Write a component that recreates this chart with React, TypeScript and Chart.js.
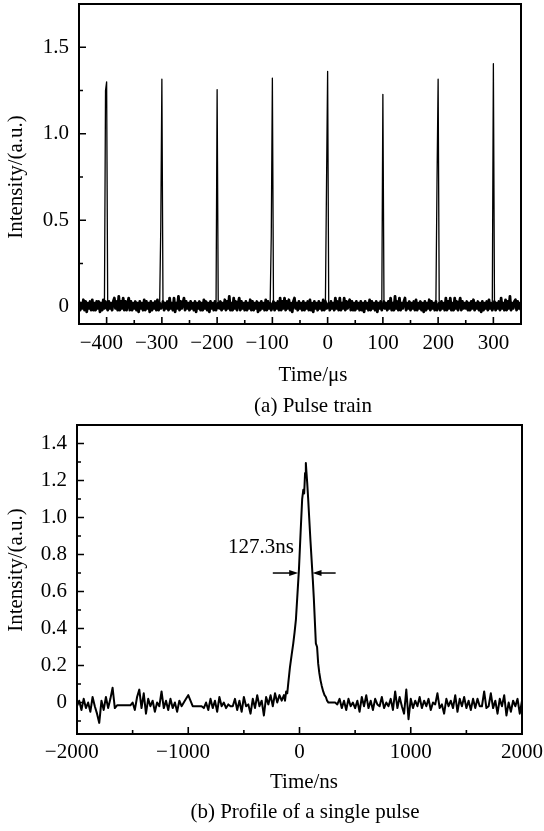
import React, { useEffect, useRef } from "react";
import { Chart, registerables } from "chart.js";

Chart.register(...registerables);

const SERIF = '"Liberation Serif", "Times New Roman", Times, serif';
const FONT_SIZE = 21;

// ---------------- (a) Pulse train ----------------
// baseline sampled every 2 µs from -450 µs; values in 0.01 a.u.
const TRAIN_T0_US = -450;
const TRAIN_DT_US = 2;
const TRAIN_NOISE = [
  3, -2, 2, -1, 4, -2, 3, -3, 2, -1, 3, -2, 4, -2, 2, -2, 3, -1, 3, -3, 2, -2, 4, -1, 3,
  0, -2, 3, -1, 2, -2, 3, 5, -1, 3, -2, 6, -2, 3, -1, 5, -2, 3, -2, 2, 5, -2, 3, -2, 2,
  -1, 3, -2, 2, -3, 3, -1, 2, -2, 4, -2, 3, -1, 2, -3, 3, -2, 2, -1, 3, -2, 4, -2, 2, -1,
  0, 3, -2, 2, -1, 3, -2, 5, -1, 2, -2, 5, -3, 2, -1, 6, -2, 3, -1, 2, 5, -2, 3, -1, 2,
  -2, 3, -1, 2, -2, 3, -3, 2, -1, 3, -2, 2, -2, 4, -1, 3, -2, 2, -3, 3, -1, 2, -2, 3, -2,
  0, 2, -1, 3, -2, 2, -1, 4, -2, 3, -1, 6, -2, 2, -2, 5, -1, 3, -2, 2, 5, -2, 3, -1, 2,
  -2, 3, -2, 2, -1, 4, -2, 3, -2, 2, -1, 3, -3, 2, -2, 3, -1, 2, -2, 4, -2, 3, -1, 2, -2,
  0, 3, -2, 2, -1, 3, -2, 5, -2, 3, -1, 5, -2, 3, -1, 4, -2, 2, -3, 3, 5, -1, 2, -2, 3,
  -1, 2, -2, 3, -2, 2, -1, 3, -2, 4, -2, 2, -3, 3, -1, 2, -2, 3, -1, 2, -2, 4, -2, 3, -1,
  0, 2, -2, 3, -1, 2, -2, 5, -1, 3, -2, 5, -2, 2, -1, 5, -2, 3, -1, 2, 4, -2, 3, -2, 2,
  -2, 3, -1, 2, -2, 3, -2, 2, -3, 3, -1, 2, -2, 4, -2, 3, -1, 2, -2, 3, -3, 2, -1, 3, -2,
  0, 3, -1, 2, -2, 3, -1, 5, -2, 2, -2, 6, -1, 3, -2, 5, -2, 2, -1, 3, 5, -2, 2, -1, 3,
  -2, 2, -1, 3, -2, 4, -2, 2, -1, 3, -2, 2, -3, 3, -2, 2, -1, 4, -2, 3, -1, 2, -2, 3, -2,
  0, 2, -2, 3, -1, 2, -2, 5, -2, 3, -1, 5, -2, 2, -2, 5, -1, 3, -2, 2, 5, -2, 3, -1, 2,
  -1, 3, -2, 2, -2, 3, -1, 4, -2, 2, -1, 3, -2, 2, -3, 3, -2, 2, -1, 3, -2, 4, -1, 2, -2,
  0, 3, -2, 2, -1, 3, -2, 5, -1, 2, -2, 4, -2, 3, -1, 6, -2, 2, -1, 3, 4, -2, 3, -1, 2,
  -2,
];
const PULSE_TIMES_US = [-400, -300, -200, -100, 0, 100, 200, 300];
const PULSE_PEAKS = [1.3, 1.315, 1.255, 1.322, 1.361, 1.228, 1.315, 1.405];
const PULSE_SHOULDERS: (number | null)[] = [1.25, 0.46, null, 0.41, 0.71, null, 0.73, null];

const TRAIN_X_MIN = -450;
const TRAIN_X_MAX = 350;
const TRAIN_Y_MIN = -0.1;
const TRAIN_Y_MAX = 1.75;
const TRAIN_X_TICKS = [-400, -300, -200, -100, 0, 100, 200, 300];
const TRAIN_X_MINOR = [-350, -250, -150, -50, 50, 150, 250];
const TRAIN_Y_TICKS = [0, 0.5, 1.0, 1.5];
const TRAIN_Y_MINOR = [0.25, 0.75, 1.25];

// ---------------- (b) Profile of a single pulse ----------------
const PROFILE_DT_NS = 20;
const PROFILE_PRE_T0_NS = -2000; // values in 0.01 a.u.
const PROFILE_PRE = [
  -2, 1, -4, 2, -3, 0, -5, 3, -2, -6, -11, 1, -4, 3, -3, 2, 8, -3,
  -1.5, -1.5, -1.5, -1.5, -1.5, -1.5, -1.5,
  0, -4, 3, 7, -3, 5, -6, 2, -2, 1, -5, 0, -2, 6, -3, 1, -4, 2, -3, 0, -5, 1, -2, 0, 2, 4,
  1, -2, -2, -2, -2, -2, -3,
  0, -4, 2, -3, 1, -5, 3, -2, 0, -3, -1, -2, -2, 2, -4, 1, -5, 3, -2, -1,
  -6, 2, -3, 4, -2, 1, -7, 3, -1, 4, -2, 5, 0, 4, 1,
];
const PROFILE_PULSE_T = [
  -140, -130, -120, -110, -100, -86, -70, -56, -44, -32, -20, -5, 10, 24, 34, 42, 50, 57, 62, 69,
  78, 87, 98, 109, 120, 129, 138, 147, 158, 168, 178, 189, 200, 213, 225, 237, 248, 260, 280,
];
const PROFILE_PULSE_V = [
  0.04, 0.01, 0.06, 0.05, 0.11, 0.19, 0.26, 0.32, 0.38, 0.45, 0.57, 0.72, 0.92, 1.1, 1.15, 1.13, 1.24, 1.295, 1.25, 1.19,
  1.1, 1.0, 0.88, 0.77, 0.66, 0.56, 0.44, 0.32, 0.3, 0.21, 0.16, 0.12, 0.09, 0.06, 0.04, 0.03, 0.01, 0.0, 0.0,
];
const PROFILE_POST_T0_NS = 300; // values in 0.01 a.u.
const PROFILE_POST = [
  0, 0, -1, 2, -3, 1, -4, 2, -2, 0,
  -3, 1, -5, 3, -2, 4, -3, 1, -4, 2,
  -1, -2, 3, -3, 0, -2, 2, -4, 6, -3,
  3, -2, -6, 7, -9, 2, -3, 1, -2, 3,
  -3, 1, -2, 2, -4, 0, -1, 5, -3, -1,
  -6, 2, -2, 1, -3, 4, -5, 2, -2, 3,
  -3, 1, -4, 2, -3, 2, -2, -2, 6, -3,
  -2, 5, -3, 1, -6, 2, -2, 4, -7, 0,
  -5, 1, -2, 2, -6, 1,
];
const FWHM_LABEL = "127.3ns";
const FWHM_LEVEL = 0.7;
const FWHM_LEFT_ARROW_NS = [-240, -12];
const FWHM_RIGHT_ARROW_NS = [325, 117];
const FWHM_LABEL_POS = [-347, 0.81];

const PROFILE_X_MIN = -2000;
const PROFILE_X_MAX = 2000;
const PROFILE_Y_MIN = -0.17;
const PROFILE_Y_MAX = 1.5;
const PROFILE_X_TICKS = [-2000, -1000, 0, 1000, 2000];
const PROFILE_X_MINOR = [-1500, -500, 500, 1500];
const PROFILE_Y_TICKS = [0, 0.2, 0.4, 0.6, 0.8, 1.0, 1.2, 1.4];
const PROFILE_Y_MINOR = [-0.1, 0.1, 0.3, 0.5, 0.7, 0.9, 1.1, 1.3];

// ---------------- helpers ----------------
type Pt = { x: number; y: number | null };

const noiseAt = (t: number) => TRAIN_NOISE[Math.round((t - TRAIN_T0_US) / TRAIN_DT_US)] / 100;

function buildTrainBaseline() {
  return TRAIN_NOISE.map((v, i) => ({ x: TRAIN_T0_US + i * TRAIN_DT_US, y: v / 100 }));
}

function buildTrainPulses() {
  const pts: Pt[] = [];
  PULSE_TIMES_US.forEach((t, k) => {
    const sh = PULSE_SHOULDERS[k];
    pts.push({ x: t - 2 * TRAIN_DT_US, y: noiseAt(t - 2 * TRAIN_DT_US) });
    pts.push({ x: t - TRAIN_DT_US, y: sh === null ? noiseAt(t - TRAIN_DT_US) : sh });
    pts.push({ x: t, y: PULSE_PEAKS[k] });
    pts.push({ x: t + TRAIN_DT_US, y: noiseAt(t + TRAIN_DT_US) });
    pts.push({ x: t + TRAIN_DT_US, y: null });
  });
  return pts;
}

function buildProfile() {
  const pts: Pt[] = [];
  PROFILE_PRE.forEach((v, i) => pts.push({ x: PROFILE_PRE_T0_NS + i * PROFILE_DT_NS, y: v / 100 }));
  PROFILE_PULSE_T.forEach((t, i) => pts.push({ x: t, y: PROFILE_PULSE_V[i] }));
  PROFILE_POST.forEach((v, i) => pts.push({ x: PROFILE_POST_T0_NS + i * PROFILE_DT_NS, y: v / 100 }));
  return pts;
}

const fmtX = (v: number) => (v < 0 ? "\u2212" + Math.abs(v) + "\u2002" : String(v));
const fmtY = (v: number) => (v === 0 ? "0" : v.toFixed(1));

function axis(min: number, max: number, ticks: number[], fmt: (v: number) => string, padding: number, size: number, horizontal: boolean) {
  return {
    type: "linear",
    min,
    max,
    grid: { display: false, drawTicks: false },
    border: { display: false },
    ticks: {
      color: "#000",
      font: { family: SERIF, size: FONT_SIZE },
      padding,
      autoSkip: false,
      maxRotation: 0,
      callback: (v: any) => fmt(Number(v)),
    },
    afterBuildTicks: (s: any) => {
      s.ticks = ticks.map((v) => ({ value: v }));
    },
    afterFit: (s: any) => {
      if (horizontal) {
        s.height = size;
        s.paddingLeft = 0;
        s.paddingRight = 0;
      } else {
        s.width = size;
        s.paddingTop = 0;
        s.paddingBottom = 0;
      }
    },
  };
}

type TextItem = { text: string; x: number; y: number; rotate?: boolean };

function decor(opts: {
  xMajor: number[];
  xMinor: number[];
  yMajor: number[];
  yMinor: number[];
  texts: TextItem[];
  annotate?: boolean;
}) {
  return {
    id: "decor",
    afterDatasetsDraw(chart: any) {
      const { ctx, chartArea: a, scales } = chart;
      const xs = scales.x;
      const ys = scales.y;
      ctx.save();
      ctx.strokeStyle = "#000";
      ctx.lineWidth = 2;
      ctx.strokeRect(a.left, a.top, a.right - a.left, a.bottom - a.top);
      ctx.lineWidth = 1.6;
      ctx.beginPath();
      const tx = (v: number, len: number) => {
        const p = xs.getPixelForValue(v);
        ctx.moveTo(p, a.bottom);
        ctx.lineTo(p, a.bottom - len);
      };
      const ty = (v: number, len: number) => {
        const p = ys.getPixelForValue(v);
        ctx.moveTo(a.left, p);
        ctx.lineTo(a.left + len, p);
      };
      opts.xMajor.forEach((v) => tx(v, 7));
      opts.xMinor.forEach((v) => tx(v, 4));
      opts.yMajor.forEach((v) => ty(v, 7));
      opts.yMinor.forEach((v) => ty(v, 4));
      ctx.stroke();

      if (opts.annotate) {
        const yA = ys.getPixelForValue(FWHM_LEVEL);
        const arrow = (fromV: number, toV: number) => {
          const x0 = xs.getPixelForValue(fromV);
          const x1 = xs.getPixelForValue(toV);
          const dir = x1 > x0 ? 1 : -1;
          ctx.lineWidth = 1.5;
          ctx.beginPath();
          ctx.moveTo(x0, yA);
          ctx.lineTo(x1 - dir * 8, yA);
          ctx.stroke();
          ctx.beginPath();
          ctx.moveTo(x1, yA);
          ctx.lineTo(x1 - dir * 9, yA - 3);
          ctx.lineTo(x1 - dir * 9, yA + 3);
          ctx.closePath();
          ctx.fillStyle = "#000";
          ctx.fill();
        };
        arrow(FWHM_LEFT_ARROW_NS[0], FWHM_LEFT_ARROW_NS[1]);
        arrow(FWHM_RIGHT_ARROW_NS[0], FWHM_RIGHT_ARROW_NS[1]);
        ctx.fillStyle = "#000";
        ctx.font = `${FONT_SIZE}px ${SERIF}`;
        ctx.textAlign = "center";
        ctx.textBaseline = "alphabetic";
        ctx.fillText(FWHM_LABEL, xs.getPixelForValue(FWHM_LABEL_POS[0]), ys.getPixelForValue(FWHM_LABEL_POS[1]));
      }
      ctx.restore();
    },
    afterDraw(chart: any) {
      const { ctx } = chart;
      ctx.save();
      ctx.fillStyle = "#000";
      ctx.font = `${FONT_SIZE}px ${SERIF}`;
      ctx.textAlign = "center";
      ctx.textBaseline = "alphabetic";
      opts.texts.forEach((t) => {
        if (t.rotate) {
          ctx.save();
          ctx.translate(t.x, t.y);
          ctx.rotate(-Math.PI / 2);
          ctx.fillText(t.text, 0, 0);
          ctx.restore();
        } else {
          ctx.fillText(t.text, t.x, t.y);
        }
      });
      ctx.restore();
    },
  };
}

const TOP_H = 416;
const BOT_TOP = 416;
const BOT_H = 831 - 416;

export default function App() {
  const topRef = useRef<HTMLCanvasElement | null>(null);
  const botRef = useRef<HTMLCanvasElement | null>(null);

  useEffect(() => {
    const c1 = new Chart(topRef.current as HTMLCanvasElement, {
      type: "line",
      data: {
        datasets: [
          {
            data: buildTrainBaseline(),
            borderColor: "#000",
            borderWidth: 2.8,
            borderJoinStyle: "round",
            pointRadius: 0,
            tension: 0,
            fill: false,
          },
          {
            data: buildTrainPulses(),
            borderColor: "#000",
            borderWidth: 1.3,
            borderJoinStyle: "round",
            pointRadius: 0,
            tension: 0,
            fill: false,
            spanGaps: false,
          },
        ],
      },
      options: {
        animation: false,
        responsive: false,
        events: [],
        layout: { padding: { left: 0, right: 23, top: 4, bottom: 0 } },
        plugins: { legend: { display: false }, tooltip: { enabled: false }, title: { display: false } },
        scales: {
          x: axis(TRAIN_X_MIN, TRAIN_X_MAX, TRAIN_X_TICKS, fmtX, 7, TOP_H - 324, true),
          y: axis(TRAIN_Y_MIN, TRAIN_Y_MAX, TRAIN_Y_TICKS, fmtY, 10, 79, false),
        },
      } as any,
      plugins: [
        decor({
          xMajor: TRAIN_X_TICKS,
          xMinor: TRAIN_X_MINOR,
          yMajor: TRAIN_Y_TICKS,
          yMinor: TRAIN_Y_MINOR,
          texts: [
            { text: "Time/\u03bcs", x: 313, y: 381 },
            { text: "(a) Pulse train", x: 313, y: 412 },
            { text: "Intensity/(a.u.)", x: 21.5, y: 177, rotate: true },
          ],
        }) as any,
      ],
    });

    const c2 = new Chart(botRef.current as HTMLCanvasElement, {
      type: "line",
      data: {
        datasets: [
          {
            data: buildProfile(),
            borderColor: "#000",
            borderWidth: 2,
            borderJoinStyle: "round",
            pointRadius: 0,
            tension: 0,
            fill: false,
          },
        ],
      },
      options: {
        animation: false,
        responsive: false,
        events: [],
        layout: { padding: { left: 0, right: 22, top: 425 - BOT_TOP, bottom: 0 } },
        plugins: { legend: { display: false }, tooltip: { enabled: false }, title: { display: false } },
        scales: {
          x: axis(PROFILE_X_MIN, PROFILE_X_MAX, PROFILE_X_TICKS, fmtX, 6, BOT_H - (734 - BOT_TOP), true),
          y: axis(PROFILE_Y_MIN, PROFILE_Y_MAX, PROFILE_Y_TICKS, fmtY, 10, 77, false),
        },
      } as any,
      plugins: [
        decor({
          xMajor: PROFILE_X_TICKS,
          xMinor: PROFILE_X_MINOR,
          yMajor: PROFILE_Y_TICKS,
          yMinor: PROFILE_Y_MINOR,
          annotate: true,
          texts: [
            { text: "Time/ns", x: 304, y: 788 - BOT_TOP },
            { text: "(b) Profile of a single pulse", x: 305, y: 818 - BOT_TOP },
            { text: "Intensity/(a.u.)", x: 21.5, y: 570 - BOT_TOP, rotate: true },
          ],
        }) as any,
      ],
    });

    return () => {
      c1.destroy();
      c2.destroy();
    };
  }, []);

  return (
    <div style={{ position: "absolute", left: 0, top: 0, width: 544, height: 831, background: "#fff" }}>
      <canvas
        ref={topRef}
        width={544}
        height={TOP_H}
        style={{ position: "absolute", left: 0, top: 0, width: 544, height: TOP_H, display: "block" }}
      />
      <canvas
        ref={botRef}
        width={544}
        height={BOT_H}
        style={{ position: "absolute", left: 0, top: BOT_TOP, width: 544, height: BOT_H, display: "block" }}
      />
    </div>
  );
}
